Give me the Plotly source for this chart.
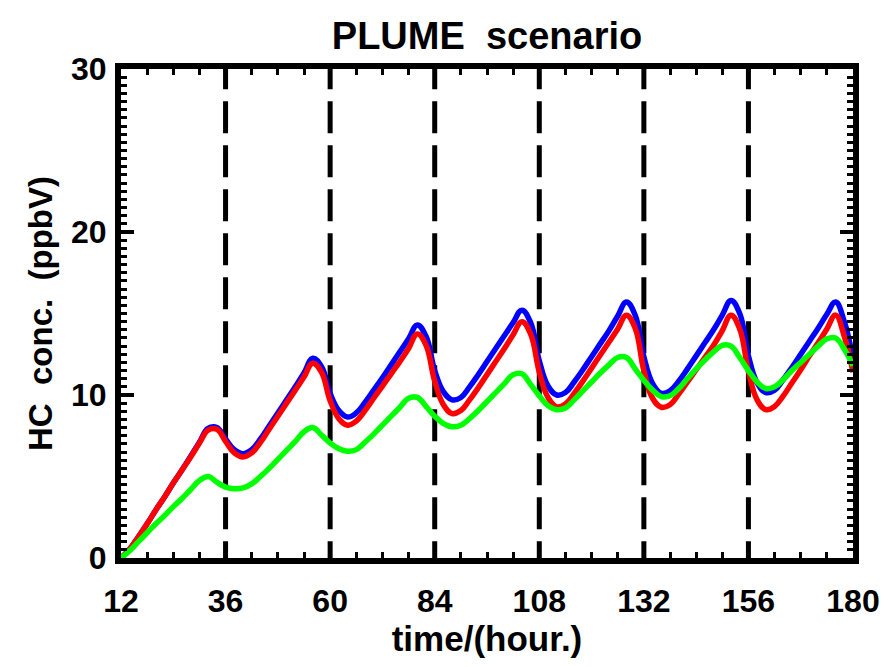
import plotly.graph_objects as go

# Model output time axis (hours) and the three hydrocarbon concentration series (ppbV)
hours = list(range(12, 181, 2))

hc_blue = [
    0.0, 0.55, 1.3, 2.1, 2.95, 3.75, 4.6, 5.4, 6.25, 7.1, 7.95, 8.0, 7.3, 6.65,
    6.4, 6.65, 7.3, 8.1, 8.9, 9.7, 10.5, 11.35, 12.25, 11.75, 10.1, 9.05,
    8.65, 8.9, 9.55, 10.3, 11.05, 11.85, 12.65, 13.45, 14.3, 13.6, 11.5, 10.2,
    9.7, 9.85, 10.5, 11.25, 12.05, 12.85, 13.65, 14.45, 15.2, 14.45, 12.1, 10.55,
    10.0, 10.15, 10.8, 11.55, 12.35, 13.15, 13.95, 14.85, 15.7, 14.9, 12.35, 10.7,
    10.1, 10.25, 10.85, 11.6, 12.4, 13.2, 14.0, 14.9, 15.8, 15.0, 12.4, 10.75,
    10.15, 10.3, 10.95, 11.7, 12.5, 13.3, 14.1, 14.95, 15.7, 14.5, 12.2,
]

hc_red = [
    0.0, 0.55, 1.3, 2.1, 2.95, 3.75, 4.6, 5.4, 6.2, 7.05, 7.85, 7.9, 7.15, 6.45,
    6.2, 6.45, 7.1, 7.9, 8.7, 9.5, 10.3, 11.1, 11.95, 11.4, 9.65, 8.55,
    8.15, 8.4, 9.05, 9.8, 10.55, 11.3, 12.05, 12.85, 13.75, 13.05, 10.85, 9.4,
    8.86, 9.05, 9.7, 10.45, 11.25, 12.05, 12.85, 13.7, 14.5, 13.75, 11.4, 9.85,
    9.27, 9.45, 10.1, 10.85, 11.65, 12.45, 13.25, 14.05, 14.9, 14.1, 11.5, 9.8,
    9.25, 9.4, 10.05, 10.8, 11.55, 12.3, 13.05, 13.95, 14.9, 14.05, 11.45, 9.7,
    9.1, 9.3, 9.95, 10.75, 11.55, 12.4, 13.2, 14.05, 14.9, 13.6, 11.4,
]

hc_green = [
    0.0, 0.45, 1.0, 1.55, 2.1, 2.6, 3.15, 3.65, 4.2, 4.75, 5.0, 4.65, 4.35, 4.25,
    4.3, 4.55, 5.0, 5.5, 6.05, 6.6, 7.15, 7.75, 8.0, 7.55, 7.05, 6.7,
    6.55, 6.65, 7.1, 7.6, 8.15, 8.7, 9.25, 9.8, 9.85, 9.3, 8.7, 8.25,
    8.05, 8.15, 8.55, 9.05, 9.6, 10.15, 10.7, 11.25, 11.3, 10.65, 9.95, 9.35,
    9.1, 9.2, 9.7, 10.25, 10.8, 11.35, 11.85, 12.3, 12.3, 11.6, 10.9, 10.3,
    9.9, 9.95, 10.4, 11.0, 11.6, 12.15, 12.65, 13.05, 13.0, 12.3, 11.5, 10.8,
    10.4, 10.5, 10.95, 11.5, 12.0, 12.5, 13.0, 13.45, 13.5, 12.8, 11.8,
]

# Midnight markers (dashed verticals)
midnight_hours = [36, 60, 84, 108, 132, 156]

x_range = [12, 180]
y_range = [0, 30]

FONT = "Liberation Sans"

fig = go.Figure()

for h in midnight_hours:
    fig.add_trace(go.Scatter(
        x=[h, h], y=[30.72, 0], mode="lines",
        line=dict(color="black", width=5, dash="32px,12px"),
        showlegend=False, hoverinfo="skip",
    ))

for vals, col in [(hc_blue, "#0000ff"), (hc_red, "#ff0000"), (hc_green, "#00ff00")]:
    fig.add_trace(go.Scatter(
        x=hours, y=vals, mode="lines",
        line=dict(color=col, width=5.5, shape="spline", smoothing=1.2),
        showlegend=False,
    ))

axis_common = dict(
    showline=True, linewidth=6, linecolor="black", mirror="allticks",
    ticks="inside", ticklen=13, tickwidth=4, tickcolor="black",
    showgrid=False, zeroline=False,
    tickfont=dict(family=FONT, size=32, color="black", weight="bold"),
)

fig.update_layout(
    width=892, height=667,
    margin=dict(l=121, r=34, t=69, b=109),
    paper_bgcolor="white", plot_bgcolor="white",
    title=dict(
        text="PLUME  scenario", xref="paper", x=0.5, xanchor="center",
        y=1 - 36 / 667, yanchor="middle",
        font=dict(family=FONT, size=38, color="black", weight="bold"),
    ),
    xaxis=dict(
        range=x_range, tick0=12, dtick=24, ticklabelstandoff=10,
        minor=dict(tick0=12, dtick=6, ticks="inside", ticklen=6, tickwidth=3, tickcolor="black"),
        title=dict(text="time/(hour.)", standoff=8,
                   font=dict(family=FONT, size=35, color="black", weight="bold")),
        **axis_common,
    ),
    yaxis=dict(
        range=y_range, tick0=0, dtick=10, ticklabelstandoff=2,
        minor=dict(tick0=0, dtick=0.5, ticks="inside", ticklen=6, tickwidth=3, tickcolor="black"),
        title=dict(text="HC  conc.  (ppbV)", standoff=10,
                   font=dict(family=FONT, size=33, color="black", weight="bold")),
        **axis_common,
    ),
)

fig.write_html("out.html")
